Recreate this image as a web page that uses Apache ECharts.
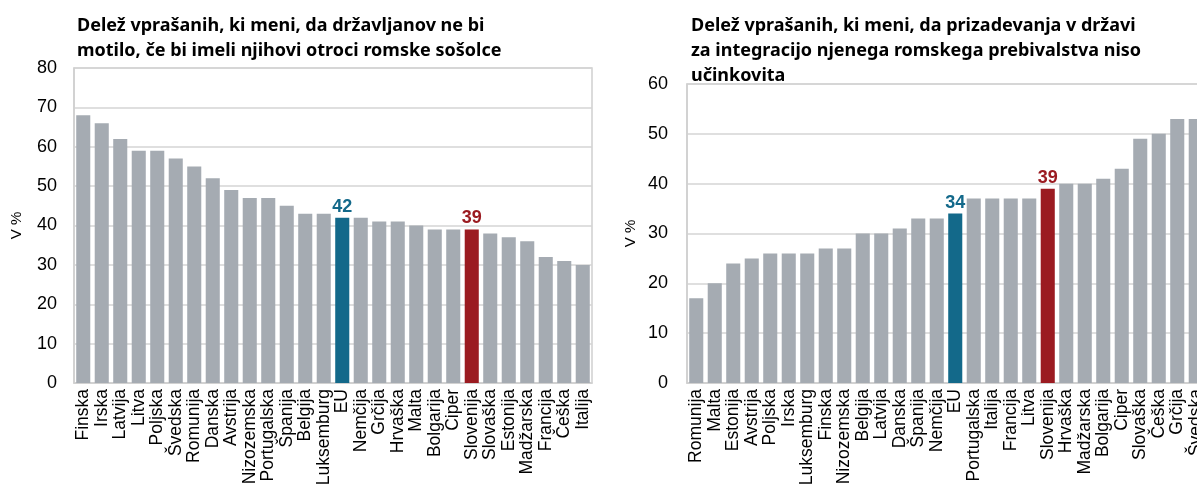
<!DOCTYPE html>
<html>
<head>
<meta charset="utf-8">
<script src="https://cdn.jsdelivr.net/npm/echarts@6/dist/echarts.min.js"></script>
<style>
  html, body { margin: 0; padding: 0; background: #fff; overflow: hidden; }
  /* desni graf sega čez rob okna, zato je platno širše od okna */
  #chart { width: 1230px; height: 489px; }
</style>
</head>
<body>
<div id="chart"></div>
<script>
// levi graf: sošolci
var leftCountries = ["Finska", "Irska", "Latvija", "Litva", "Poljska", "Švedska", "Romunija", "Danska",
  "Avstrija", "Nizozemska", "Portugalska", "Španija", "Belgija", "Luksemburg", "EU", "Nemčija",
  "Grčija", "Hrvaška", "Malta", "Bolgarija", "Ciper", "Slovenija", "Slovaška", "Estonija",
  "Madžarska", "Francija", "Češka", "Italija"];
var leftValues = [68, 66, 62, 59, 59, 57, 55, 52, 49, 47, 47, 45, 43, 43, 42, 42,
  41, 41, 40, 39, 39, 39, 38, 37, 36, 32, 31, 30];

// desni graf: prizadevanja za integracijo
var rightCountries = ["Romunija", "Malta", "Estonija", "Avstrija", "Poljska", "Irska", "Luksemburg", "Finska",
  "Nizozemska", "Belgija", "Latvija", "Danska", "Španija", "Nemčija", "EU", "Portugalska",
  "Italija", "Francija", "Litva", "Slovenija", "Hrvaška", "Madžarska", "Bolgarija", "Ciper",
  "Slovaška", "Češka", "Grčija", "Švedska"];
var rightValues = [17, 20, 24, 25, 26, 26, 26, 27, 27, 30, 30, 31, 33, 33, 34, 37,
  37, 37, 37, 39, 40, 40, 41, 43, 49, 50, 53, 53];

var leftTicks = [0, 10, 20, 30, 40, 50, 60, 70, 80];
var rightTicks = [0, 10, 20, 30, 40, 50, 60];

var GREY = "#a5abb2";
var EU_COL = "#13698a";
var SI_COL = "#9b1b21";

function makeData(names, values) {
  return values.map(function (v, i) {
    var item = { value: v };
    if (names[i] === "EU" || names[i] === "Slovenija") {
      var c = names[i] === "EU" ? EU_COL : SI_COL;
      item.itemStyle = { color: c };
      item.label = {
        show: true, position: "top", distance: 2,
        color: c, fontWeight: "bold", fontSize: 18,
        fontFamily: "Liberation Sans"
      };
    }
    return item;
  });
}

function xAxisFor(names, idx) {
  return {
    type: "category",
    gridIndex: idx,
    data: names,
    axisTick: { show: false },
    axisLine: { lineStyle: { color: "#cfcfcf", width: 1.5 } },
    axisLabel: {
      interval: 0, rotate: 90, margin: 6,
      color: "#000", fontSize: 17.5, fontFamily: "Liberation Sans"
    }
  };
}

function yAxisFor(ticks, idx, gap, margin) {
  return {
    type: "value",
    gridIndex: idx,
    min: ticks[0],
    max: ticks[ticks.length - 1],
    interval: ticks[1] - ticks[0],
    name: "V %",
    nameLocation: "middle",
    nameRotate: 90,
    nameGap: gap,
    nameTextStyle: { color: "#000", fontSize: 15, fontFamily: "Liberation Sans" },
    axisLine: { show: true, lineStyle: { color: "#cfcfcf", width: 1.5 } },
    axisTick: { show: false },
    splitLine: { lineStyle: { color: "#d4d4d4", width: 1.5 } },
    axisLabel: { color: "#000", fontSize: 18, margin: margin, fontFamily: "Liberation Sans" }
  };
}

var titleStyle = {
  color: "#000", fontSize: 18, fontWeight: "bold",
  fontFamily: "Noto Sans", lineHeight: 25
};

var myChart = echarts.init(document.getElementById("chart"));
myChart.setOption({
  animation: false,
  title: [
    {
      text: "Delež vprašanih, ki meni, da državljanov ne bi\nmotilo, če bi imeli njihovi otroci romske sošolce",
      left: 72, top: 8, textStyle: titleStyle
    },
    {
      text: "Delež vprašanih, ki meni, da prizadevanja v državi\nza integracijo njenega romskega prebivalstva niso\nučinkovita",
      left: 686, top: 8, textStyle: titleStyle
    }
  ],
  grid: [
    { left: 74, top: 68, width: 518, height: 315, show: true, borderColor: "#cfcfcf", borderWidth: 1.5 },
    { left: 687, top: 84, width: 518, height: 299, show: true, borderColor: "#cfcfcf", borderWidth: 1.5 }
  ],
  xAxis: [xAxisFor(leftCountries, 0), xAxisFor(rightCountries, 1)],
  yAxis: [yAxisFor(leftTicks, 0, 50, 17), yAxisFor(rightTicks, 1, 49, 19)],
  series: [
    {
      type: "bar", xAxisIndex: 0, yAxisIndex: 0,
      barCategoryGap: "24%",
      itemStyle: { color: GREY },
      data: makeData(leftCountries, leftValues)
    },
    {
      type: "bar", xAxisIndex: 1, yAxisIndex: 1,
      barCategoryGap: "24%",
      itemStyle: { color: GREY },
      data: makeData(rightCountries, rightValues)
    }
  ]
});
</script>
</body>
</html>
